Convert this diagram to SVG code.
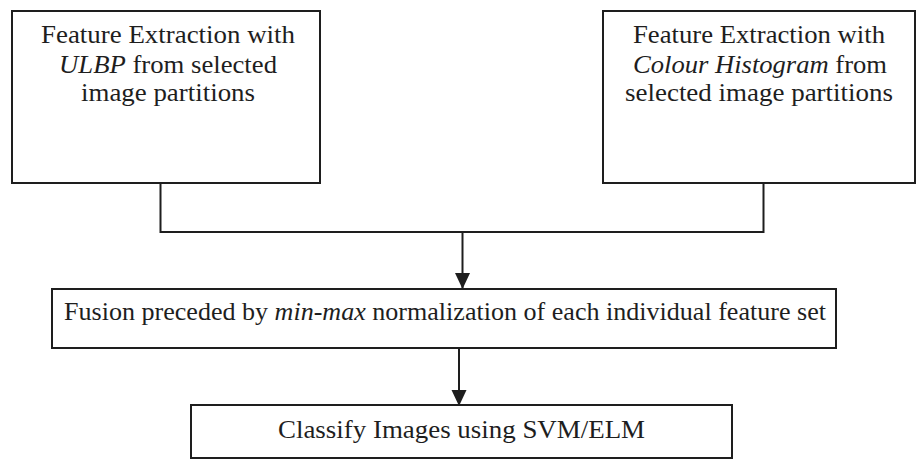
<svg xmlns="http://www.w3.org/2000/svg" width="917" height="461" viewBox="0 0 917 461">
<style>
.box{fill:#fff;stroke:#1e1e1e;stroke-width:2}
.t{font-family:"Liberation Serif","Times New Roman",serif;font-size:25px;fill:#1e1e1e;text-anchor:middle}
.i{font-style:italic}
.c{fill:none;stroke:#1e1e1e;stroke-width:2}
</style>
<defs>
<marker id="ah" markerUnits="userSpaceOnUse" markerWidth="16" markerHeight="17" viewBox="0 0 16 17" refX="15" refY="8.5" orient="auto">
<path d="M0,1 L16,8.5 L0,16 Z" fill="#1e1e1e"/>
</marker>
</defs>
<rect width="917" height="461" fill="#fff"/>
<g id="connectors">
<path class="c" d="M160.5,183 V232 H763.5 V183"/>
<path class="c" d="M462.5,232 V288" marker-end="url(#ah)"/>
<path class="c" d="M459,348 V405" marker-end="url(#ah)"/>
</g>
<g id="ulbp">
<rect class="box" x="12" y="11" width="308" height="172"/>
<text class="t" x="168" y="43" textLength="254" lengthAdjust="spacingAndGlyphs">Feature Extraction with</text>
<text class="t" x="168" y="73" textLength="218" lengthAdjust="spacingAndGlyphs"><tspan class="i">ULBP</tspan> from selected</text>
<text class="t" x="168" y="101" textLength="174" lengthAdjust="spacingAndGlyphs">image partitions</text>
</g>
<g id="colour">
<rect class="box" x="603" y="11" width="312" height="172"/>
<text class="t" x="759" y="43" textLength="252" lengthAdjust="spacingAndGlyphs">Feature Extraction with</text>
<text class="t" x="760" y="73" textLength="254" lengthAdjust="spacingAndGlyphs"><tspan class="i">Colour Histogram</tspan> from</text>
<text class="t" x="759" y="101" textLength="268" lengthAdjust="spacingAndGlyphs">selected image partitions</text>
</g>
<g id="fusion">
<rect class="box" x="52" y="289" width="784" height="59"/>
<text class="t" x="445" y="320" textLength="762" lengthAdjust="spacingAndGlyphs">Fusion preceded by <tspan class="i">min-max</tspan> normalization of each individual feature set</text>
</g>
<g id="classify">
<rect class="box" x="191" y="405" width="541" height="53"/>
<text class="t" x="461.5" y="438" textLength="367" lengthAdjust="spacingAndGlyphs">Classify Images using SVM/ELM</text>
</g>
</svg>
